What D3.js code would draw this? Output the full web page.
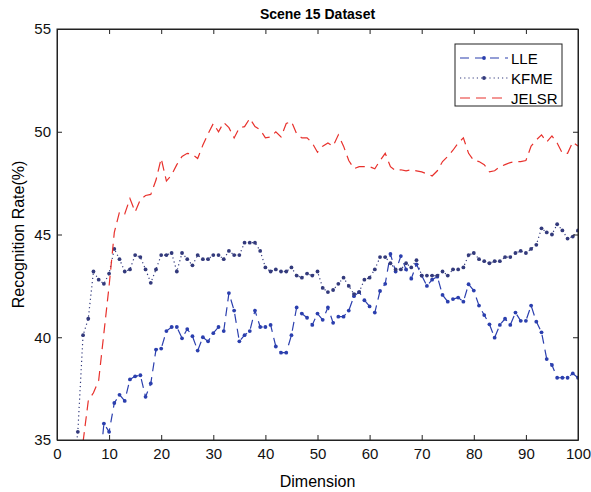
<!DOCTYPE html>
<html>
<head>
<meta charset="utf-8">
<script src="https://cdn.jsdelivr.net/npm/d3@7"></script>
<style>
  body { margin: 0; background: #fff; }
  svg { font-family: "Liberation Sans", Arial, sans-serif; }
  .axis path, .axis line { stroke: #222; }
  .axis text { font-size: 15px; fill: #111; }
</style>
</head>
<body>
<div id="chart"></div>
<script>
var xTicks = [0, 10, 20, 30, 40, 50, 60, 70, 80, 90, 100];
var yTicks = [35, 40, 45, 50, 55];

// first dimension of each series, then one value per dimension
var lleStart = 8;
var lleValues = [33.1, 35.8, 35.4, 36.8, 37.2, 36.9, 37.95, 38.1, 38.15, 37.1, 37.75, 39.4, 39.45,
  40.3, 40.5, 40.5, 39.95, 40.4, 40.05, 39.35, 40.0, 39.8, 40.2, 40.5, 40.3, 42.15, 41.3, 39.8,
  40.1, 40.3, 41.3, 40.5, 40.5, 40.6, 39.55, 39.25, 39.25, 40.1, 41.45, 41.15, 40.95, 40.6, 41.15,
  40.85, 41.45, 40.7, 41.0, 41.0, 41.3, 42.0, 42.2, 41.8, 41.5, 41.2, 42.25, 42.6, 44.05, 43.2,
  43.95, 43.3, 42.85, 43.55, 43.0, 42.5, 42.8, 42.95, 42.06, 41.73, 41.86, 41.93, 41.73, 42.58,
  42.27, 41.54, 41.08, 40.63, 39.98, 40.6, 40.9, 40.6, 41.2, 40.8, 40.8, 41.54, 40.76, 40.24,
  38.94, 38.65, 38.03, 38.03, 38.03, 38.24, 38.03];

var kfmeStart = 3;
var kfmeValues = [33.3, 35.4, 40.1, 40.9, 43.2, 42.8, 42.6, 43.1, 44.3, 43.8, 43.2, 43.3, 44.0, 43.9,
  43.3, 42.65, 43.3, 44.0, 44.0, 44.1, 43.2, 44.1, 43.8, 43.5, 44.0, 43.8, 43.8, 44.0, 44.0, 43.8,
  44.2, 44.0, 44.0, 44.6, 44.6, 44.6, 44.2, 43.4, 43.2, 43.3, 43.2, 43.2, 43.4, 43.0, 42.9, 43.1,
  43.0, 43.2, 42.4, 42.2, 42.3, 42.6, 42.9, 42.5, 42.1, 42.2, 42.8, 42.9, 43.3, 43.9, 43.9, 43.6,
  43.3, 43.3, 43.6, 43.4, 43.75, 43.0, 43.0, 43.0, 43.0, 43.2, 43.0, 43.3, 43.3, 43.4, 44.0, 44.1,
  43.8, 43.7, 43.6, 43.7, 43.7, 43.9, 43.9, 44.1, 44.2, 44.1, 44.3, 44.5, 45.3, 45.1, 45.0, 45.5,
  45.2, 44.8, 44.9, 45.2];

var jelsrStart = 5;
var jelsrValues = [34.9, 36.9, 37.3, 37.9, 40.2, 42.5, 45.1, 46.1, 46.0, 46.75, 46.1, 46.7, 46.9, 46.95,
  47.65, 48.7, 47.6, 47.9, 48.4, 48.8, 48.95, 48.9, 48.7, 49.35, 49.9, 50.4, 50.0, 50.45, 50.2,
  49.7, 50.2, 50.25, 50.65, 50.25, 50.1, 49.7, 49.75, 50.0, 49.75, 50.4, 50.5, 49.9, 49.7, 49.7,
  49.45, 49.0, 49.3, 49.45, 49.3, 49.85, 49.3, 48.6, 48.2, 48.3, 48.3, 48.3, 48.2, 48.6, 48.95,
  48.3, 48.1, 48.15, 48.1, 48.15, 48.1, 48.05, 47.95, 47.85, 48.1, 48.55, 48.8, 49.1, 49.45, 49.7,
  48.95, 48.6, 48.55, 48.4, 48.05, 48.1, 48.3, 48.4, 48.5, 48.55, 48.55, 48.6, 49.3, 49.6, 49.85,
  49.5, 49.8, 49.45, 48.95, 48.95, 49.5, 49.3];

var seriesNames = ['LLE', 'KFME', 'JELSR'];

var width = 591, height = 492;
var margin = {top: 29, right: 13, bottom: 52, left: 57};
var plotW = width - margin.left - margin.right;
var plotH = height - margin.top - margin.bottom;

var svg = d3.select('#chart').append('svg')
    .attr('width', width)
    .attr('height', height);

var g = svg.append('g').attr('transform', `translate(${margin.left},${margin.top})`);

var x = d3.scaleLinear().domain([0, 100]).range([0, plotW]);
var y = d3.scaleLinear().domain([35, 55]).range([plotH, 0]);

g.append('clipPath').attr('id', 'clip')
  .append('rect').attr('width', plotW).attr('height', plotH);

function toPoints(start, vals) {
    return vals.map((v, i) => ({dim: start + i, val: v}));
}

var series = [
    {name: seriesNames[0], pts: toPoints(lleStart, lleValues), color: '#2b3fae', dash: '9,6', marker: true},
    {name: seriesNames[1], pts: toPoints(kfmeStart, kfmeValues), color: '#333a7c', dash: '1.2,3', marker: true},
    {name: seriesNames[2], pts: toPoints(jelsrStart, jelsrValues), color: '#e8312c', dash: '10,6', marker: false}
];

var line = d3.line().x(d => x(d.dim)).y(d => y(d.val));

var plot = g.append('g').attr('clip-path', 'url(#clip)');

series.forEach(s => {
    plot.append('path')
        .datum(s.pts)
        .attr('fill', 'none')
        .attr('stroke', s.color)
        .attr('stroke-width', 1.2)
        .attr('stroke-dasharray', s.dash)
        .attr('d', line);
    if (s.marker) {
        plot.selectAll(null).data(s.pts).enter().append('circle')
            .attr('cx', d => x(d.dim))
            .attr('cy', d => y(d.val))
            .attr('r', 1.9)
            .attr('fill', s.color);
    }
});

// axes, matlab style: ticks pointing in, on all four sides
var tickLen = 5;
g.append('g').attr('class', 'axis')
    .attr('transform', `translate(0,${plotH})`)
    .call(d3.axisBottom(x).tickValues(xTicks).tickSize(-tickLen).tickPadding(8).tickSizeOuter(0));
g.append('g').attr('class', 'axis')
    .call(d3.axisTop(x).tickValues(xTicks).tickSize(-tickLen).tickFormat('').tickSizeOuter(0));
g.append('g').attr('class', 'axis')
    .call(d3.axisLeft(y).tickValues(yTicks).tickSize(-tickLen).tickPadding(6).tickSizeOuter(0));
g.append('g').attr('class', 'axis')
    .attr('transform', `translate(${plotW},0)`)
    .call(d3.axisRight(y).tickValues(yTicks).tickSize(-tickLen).tickFormat('').tickSizeOuter(0));
g.selectAll('.axis .domain').attr('stroke', '#222');

g.append('rect')
    .attr('width', plotW).attr('height', plotH)
    .attr('fill', 'none').attr('stroke', '#222').attr('stroke-width', 1);

svg.append('text')
    .attr('x', margin.left + plotW / 2).attr('y', 19)
    .attr('text-anchor', 'middle')
    .style('font-size', '14px').style('font-weight', 'bold')
    .text('Scene 15 Dataset');

svg.append('text')
    .attr('x', margin.left + plotW / 2).attr('y', 487)
    .attr('text-anchor', 'middle')
    .style('font-size', '16px')
    .text('Dimension');

svg.append('text')
    .attr('transform', `translate(24,${margin.top + plotH / 2})rotate(-90)`)
    .attr('text-anchor', 'middle')
    .style('font-size', '16px')
    .text('Recognition Rate(%)');

// legend
var legend = svg.append('g').attr('transform', 'translate(455,44)');
legend.append('rect')
    .attr('width', 107).attr('height', 62)
    .attr('fill', '#fff').attr('stroke', '#222').attr('stroke-width', 1);

series.forEach((s, i) => {
    var ly = 14 + i * 20;
    legend.append('line')
        .attr('x1', 5).attr('x2', 53).attr('y1', ly).attr('y2', ly)
        .attr('stroke', s.color).attr('stroke-width', 1.2)
        .attr('stroke-dasharray', s.dash);
    if (s.marker) {
        legend.append('circle').attr('cx', 29).attr('cy', ly).attr('r', 1.9).attr('fill', s.color);
    }
    legend.append('text')
        .attr('x', 56).attr('y', ly + 5.5)
        .style('font-size', '15px')
        .text(s.name);
});
</script>
</body>
</html>
